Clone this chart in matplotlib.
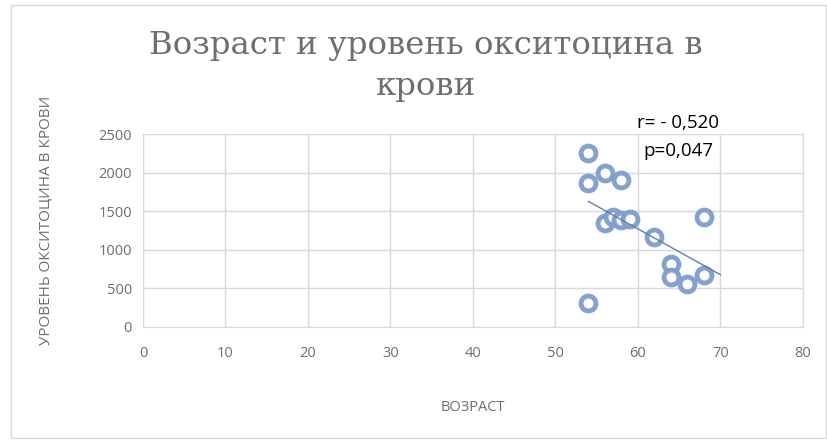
import numpy as np
import matplotlib
matplotlib.use("Agg")
import matplotlib.pyplot as plt
from matplotlib.patches import Rectangle

plt.rcParams['font.family'] = ['Open Sans', 'DejaVu Sans']

# data
ages = [54, 54, 54, 56, 58, 56, 57, 58, 59, 62, 68, 64, 64, 66, 68]
oxytocin = [2250, 1860, 315, 2000, 1900, 1350, 1420, 1380, 1400, 1170, 1420, 820, 650, 560, 680]
x_ticks = [0, 10, 20, 30, 40, 50, 60, 70, 80]
y_ticks = [0, 500, 1000, 1500, 2000, 2500]
trend_end = 70

title = "Возраст и уровень окситоцина в\nкрови"
stats_text = "r= - 0,520\np=0,047"

grey = '#6e6e6e'
grid_c = '#d9d9d9'

fig = plt.figure(figsize=(8.28, 4.43), dpi=100)
fig.patches.append(Rectangle((11 / 828, 1 - 438 / 443), 815 / 828, 433 / 443,
                             transform=fig.transFigure, fill=False,
                             edgecolor='#d9d9d9', lw=1))

ax = fig.add_axes([143 / 828, 1 - 327 / 443, 660 / 828, 193 / 443])

ax.scatter(ages, oxytocin, s=115, facecolor='white', edgecolor='#7f9dcb',
           linewidth=3.5, alpha=0.95, zorder=3)

# linear trend
k, b = np.polyfit(ages, oxytocin, 1)
tx = np.array([min(ages), trend_end])
ax.plot(tx, k * tx + b, color='#5f7fae', lw=1, zorder=4)

ax.set_xlim(0, 80)
ax.set_ylim(0, 2500)
ax.set_xticks(x_ticks)
ax.set_yticks(y_ticks)
ax.grid(True, color=grid_c, lw=1)
ax.set_axisbelow(True)
for s in ax.spines.values():
    s.set_color(grid_c)
ax.tick_params(length=0, colors=grey, labelsize=10.5)
ax.tick_params(axis='x', pad=14)
ax.tick_params(axis='y', pad=8)

ax.set_xlabel("ВОЗРАСТ", color=grey, fontsize=10.5)
ax.xaxis.set_label_coords(0.5, -0.38)
ax.set_ylabel("УРОВЕНЬ ОКСИТОЦИНА В КРОВИ", color=grey, fontsize=11)
ax.yaxis.set_label_coords(-0.136, 0.55)

fig.text(426 / 828, 1 - 66 / 443, title, ha='center', va='center',
         fontsize=23.3, color=grey, family='DejaVu Serif', linespacing=1.4)

fig.text(678 / 828, 1 - 137 / 443, stats_text, ha='center', va='center',
         multialignment='center', fontsize=13.5, color='black', linespacing=1.7)

fig.savefig("out.png", dpi=100)
